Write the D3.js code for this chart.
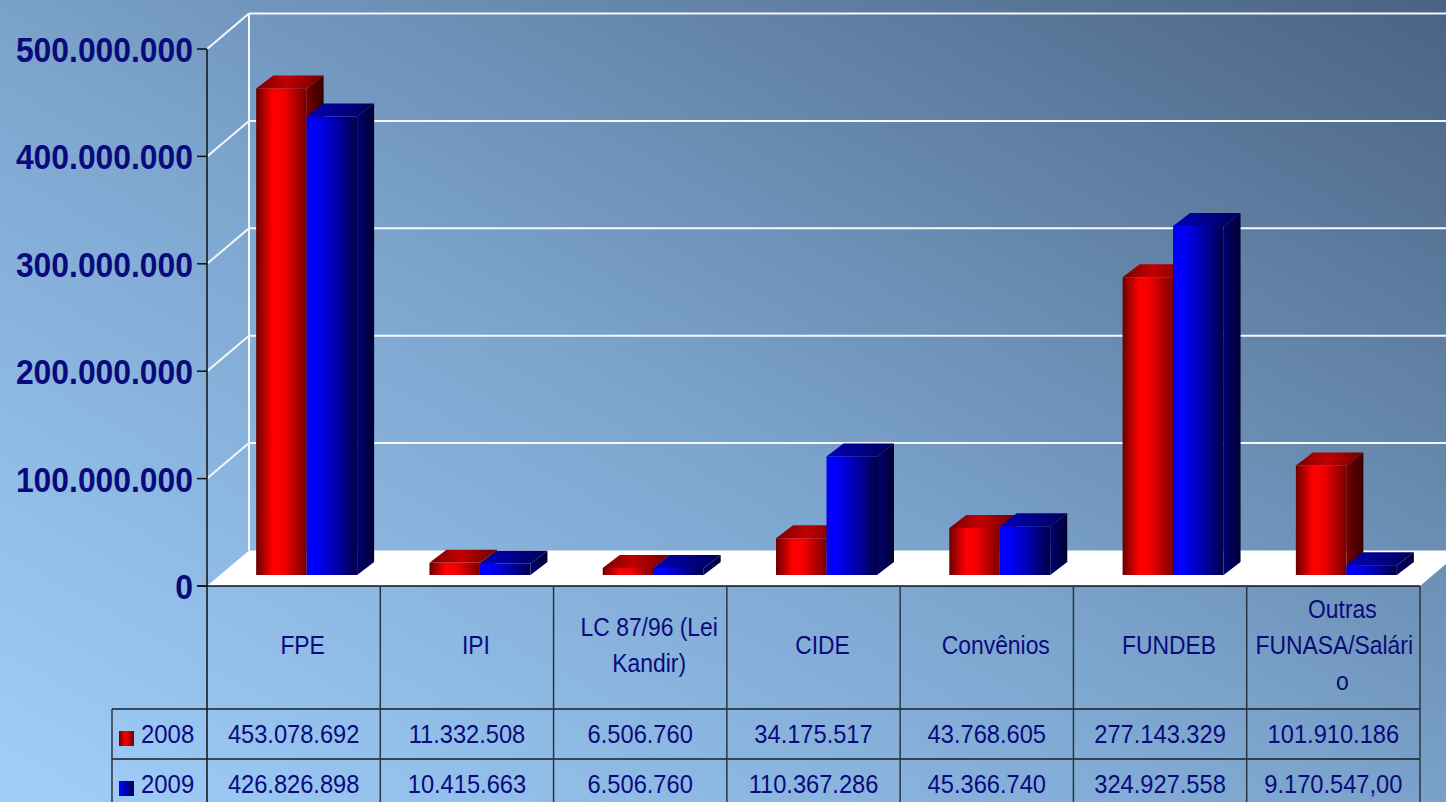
<!DOCTYPE html>
<html><head><meta charset="utf-8">
<script src="https://cdn.jsdelivr.net/npm/d3@7"></script>
<style>html,body{margin:0;padding:0;overflow:hidden;background:#7fa6cf}</style>
</head><body>
<svg id="c" width="1446" height="802"></svg>
<script>
// ---------- data ----------
const categories = ["FPE","IPI","LC 87/96 (Lei Kandir)","CIDE","Convênios","FUNDEB","Outras FUNASA/Salário"];
const headerLines = [["FPE"],["IPI"],["LC 87/96 (Lei","Kandir)"],["CIDE"],["Convênios"],["FUNDEB"],["Outras","FUNASA/Salári","o"]];
const seriesNames = ["2008","2009"];
const values2008 = [453078692, 11332508, 6506760, 34175517, 43768605, 277143329, 101910186];
const values2009 = [426826898, 10415663, 6506760, 110367286, 45366740, 324927558, 9170547];
const decimals2008 = [0,0,0,0,0,0,0];
const decimals2009 = [0,0,0,0,0,0,2];
const yTicks = [0, 100000000, 200000000, 300000000, 400000000, 500000000];

// ---------- layout ----------
const W = 1446, H = 802;
const left = 207, right = 1420, floorY = 586, topY = 49;
const depth = {dx: 42, dy: -35.5};      // full depth of plot box
const barOff = {dx: 13, dy: -11};       // front of bars inside box
const barDepth = {dx: 17, dy: -13};     // depth of each bar
const tableLeft = 112, headerBottom = 709, rowH = 50;
const navy = "#0a0a7c";
const FONT = "'Liberation Sans', Arial, sans-serif";

const svg = d3.select("#c");
const defs = svg.append("defs");

function lin(id, stops, x1=0, y1=0, x2=1, y2=0) {
  const g = defs.append("linearGradient").attr("id", id)
    .attr("x1", x1).attr("y1", y1).attr("x2", x2).attr("y2", y2);
  stops.forEach(s => g.append("stop").attr("offset", s[0]).attr("stop-color", s[1]));
}
lin("bg", [[0, "#a0cefa"], [0.45, "#7ea7d0"], [1, "#4a6383"]], 0, 1, 1, 0);
lin("redFront", [[0, "#6a0000"], [0.33, "#ff0000"], [0.55, "#f20000"], [1, "#780000"]]);
lin("redSide", [[0, "#720000"], [1, "#350000"]]);
lin("redTop", [[0, "#7a0000"], [0.45, "#c00000"], [1, "#6e0000"]]);
lin("blueFront", [[0, "#0000f0"], [0.18, "#0000ff"], [0.6, "#0000a8"], [1, "#000048"]]);
lin("blueSide", [[0, "#00006e"], [1, "#000032"]]);
lin("blueTop", [[0, "#0000b8"], [0.5, "#00008a"], [1, "#000058"]]);
lin("redKey", [[0, "#700000"], [0.45, "#ff0000"], [1, "#700000"]]);
lin("blueKey", [[0, "#0000ff"], [1, "#000050"]]);

svg.append("rect").attr("width", W).attr("height", H).attr("fill", "url(#bg)");

// ---------- scales ----------
const y = d3.scaleLinear().domain([0, 500000000]).range([floorY, topY]);
const x0 = d3.scaleBand().domain(categories).range([left, right]);
const x1 = d3.scaleBand().domain(seriesNames).range([0, x0.bandwidth()]).paddingInner(0).paddingOuter(0.716);

// ---------- walls / gridlines ----------
const grid = svg.append("g");
yTicks.filter(t => t > 0).forEach(t => {
  const yf = y(t), yb = yf + depth.dy;
  grid.append("line").attr("x1", left).attr("y1", yf).attr("x2", left + depth.dx).attr("y2", yb)
    .attr("stroke", "#f4f8fc").attr("stroke-width", 2);
  grid.append("line").attr("x1", left + depth.dx).attr("y1", yb).attr("x2", W).attr("y2", yb)
    .attr("stroke", "#f4f8fc").attr("stroke-width", 2);
});
grid.append("line").attr("x1", left + depth.dx).attr("x2", left + depth.dx)
  .attr("y1", y(500000000) + depth.dy).attr("y2", floorY + depth.dy)
  .attr("stroke", "#f4f8fc").attr("stroke-width", 2);

// floor
svg.append("polygon").attr("fill", "#ffffff").attr("points", [
  [left, floorY], [left + depth.dx, floorY + depth.dy],
  [right + depth.dx, floorY + depth.dy], [right, floorY]].map(p => p.join(",")).join(" "));

// ---------- bars ----------
const series = [
  {name: "2008", vals: values2008, f: "redFront", s: "redSide", t: "redTop"},
  {name: "2009", vals: values2009, f: "blueFront", s: "blueSide", t: "blueTop"}
];
const bars = svg.append("g");
const pts = a => a.map(p => p.join(",")).join(" ");
categories.forEach((c, i) => {
  series.forEach(s => {
    const v = s.vals[i];
    const xl = x0(c) + x1(s.name) + barOff.dx;
    const xr = xl + x1.bandwidth();
    const yb = y(0) + barOff.dy;
    const yt = y(v) + barOff.dy;
    const dx = barDepth.dx, dy = barDepth.dy;
    bars.append("polygon").attr("fill", `url(#${s.s})`)
      .attr("points", pts([[xr, yt], [xr + dx, yt + dy], [xr + dx, yb + dy], [xr, yb]]));
    bars.append("polygon").attr("fill", `url(#${s.t})`)
      .attr("points", pts([[xl, yt], [xl + dx, yt + dy], [xr + dx, yt + dy], [xr, yt]]));
    bars.append("rect").attr("fill", `url(#${s.f})`)
      .attr("x", xl).attr("y", yt).attr("width", xr - xl).attr("height", Math.max(0, yb - yt));
  });
});

// ---------- y axis ----------
const locale = d3.formatLocale({decimal: ",", thousands: ".", grouping: [3], currency: ["", ""]});
const fmtInt = locale.format(",d");
const fmt2 = locale.format(",.2f");
const axis = svg.append("g");
axis.append("line").attr("x1", left).attr("x2", left).attr("y1", topY).attr("y2", H)
  .attr("stroke", "#111").attr("stroke-width", 1.5);
yTicks.forEach(t => {
  axis.append("line").attr("x1", left - 10).attr("x2", left).attr("y1", y(t)).attr("y2", y(t))
    .attr("stroke", "#111").attr("stroke-width", 1.5);
  axis.append("g").attr("transform", `translate(193,${y(t) + 13}) scale(0.91,1)`)
    .append("text").attr("text-anchor", "end").attr("font-family", FONT)
    .attr("font-weight", "bold").attr("font-size", 35).attr("fill", navy)
    .text(fmtInt(t));
});

// ---------- data table ----------
const tbl = svg.append("g");
const lineCol = "#2b3540";
tbl.append("line").attr("x1", left - 10).attr("x2", right).attr("y1", floorY).attr("y2", floorY)
  .attr("stroke", "#111").attr("stroke-width", 1.5);
[headerBottom, headerBottom + rowH].forEach(yy => {
  tbl.append("line").attr("x1", tableLeft).attr("x2", right).attr("y1", yy).attr("y2", yy)
    .attr("stroke", "#1a1f25").attr("stroke-width", 1.5);
});
tbl.append("line").attr("x1", tableLeft).attr("x2", tableLeft).attr("y1", headerBottom).attr("y2", H)
  .attr("stroke", lineCol).attr("stroke-width", 1.5);
categories.forEach(c => {
  const xr = x0(c) + x0.bandwidth();
  tbl.append("line").attr("x1", xr).attr("x2", xr).attr("y1", floorY).attr("y2", H)
    .attr("stroke", lineCol).attr("stroke-width", 1.5);
});

function txt(g, x, yy, s, sx) {
  const gg = g.append("g").attr("transform", `translate(${x},${yy}) scale(${sx},1)`);
  gg.append("text").attr("text-anchor", "middle").attr("font-family", FONT)
    .attr("font-size", 26).attr("fill", navy).text(s);
  return gg;
}
// header labels
const headerMid = (floorY + headerBottom) / 2;
categories.forEach((c, i) => {
  const lines = headerLines[i];
  const colL = x0(c), colR = x0(c) + x0.bandwidth();
  const cx = (colL + colR) / 2;
  lines.forEach((l, k) => {
    const by = headerMid + 6 + (k - (lines.length - 1) / 2) * 36;
    const gg = txt(tbl, cx, by, l, 0.88);
    const w = gg.node().getBBox().width * 0.88;
    const shift = Math.max(0, Math.min(9, (colR - 7) - (cx + w / 2)));
    gg.attr("transform", `translate(${cx + shift},${by}) scale(0.88,1)`);
  });
});
// rows
series.forEach((s, r) => {
  const decs = r === 0 ? decimals2008 : decimals2009;
  const rowTop = headerBottom + r * rowH;
  const base = rowTop + 34;
  categories.forEach((c, i) => {
    const cx = x0(c) + x0.bandwidth() / 2;
    const v = s.vals[i];
    txt(tbl, cx, base, decs[i] ? fmt2(v) : fmtInt(v), 0.91);
  });
  tbl.append("rect").attr("x", 119).attr("y", rowTop + 22).attr("width", 15).attr("height", 15)
    .attr("fill", r === 0 ? "url(#redKey)" : "url(#blueKey)");
  tbl.append("g").attr("transform", `translate(141,${base}) scale(0.92,1)`)
    .append("text").attr("font-family", FONT).attr("font-size", 26).attr("fill", navy).text(s.name);
});
</script>
</body></html>
